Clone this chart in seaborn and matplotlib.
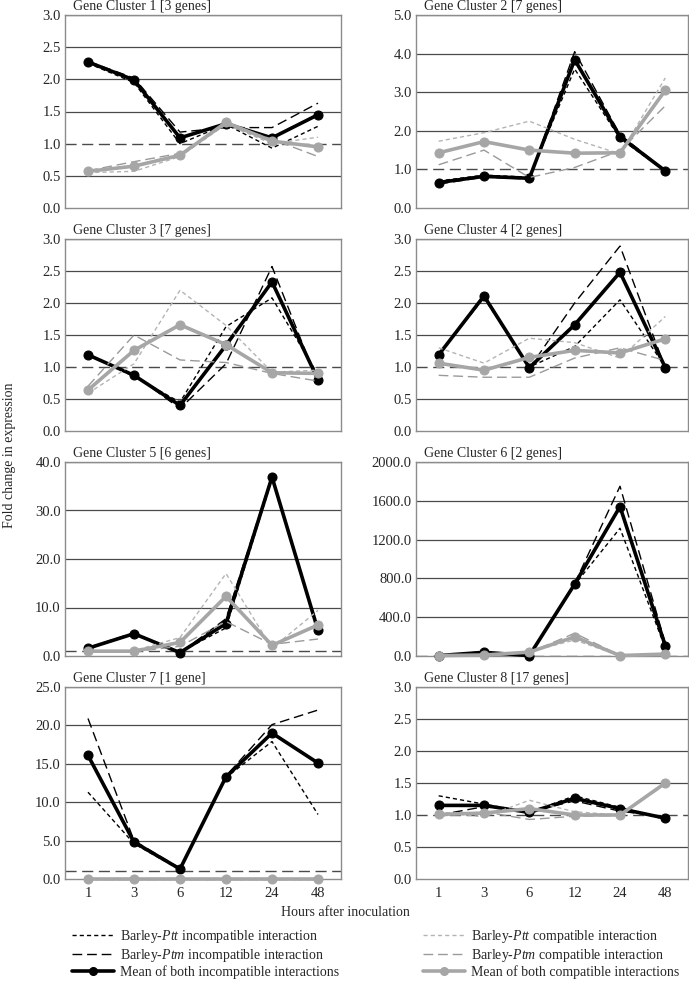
import matplotlib
matplotlib.use("Agg")
import matplotlib.pyplot as plt
from matplotlib.lines import Line2D
import seaborn as sns
import pandas as pd

# ---------------- data ----------------
hours = ["1", "3", "6", "12", "24", "48"]
titles = ["Gene Cluster 1 [3 genes]", "Gene Cluster 2 [7 genes]",
          "Gene Cluster 3 [7 genes]", "Gene Cluster 4 [2 genes]",
          "Gene Cluster 5 [6 genes]", "Gene Cluster 6 [2 genes]",
          "Gene Cluster 7 [1 gene]", "Gene Cluster 8 [17 genes]"]

# Barley-Ptt incompatible interaction
ptt_inc = [
    [2.25, 1.95, 1.00, 1.30, 0.93, 1.27],
    [0.70, 0.85, 0.80, 3.60, 1.80, 0.95],
    [1.20, 0.85, 0.45, 1.63, 2.08, 0.88],
    [1.20, 2.08, 1.00, 1.32, 2.05, 1.00],
    [1.50, 4.50, 0.80, 5.80, 36.5, 5.50],
    [3.0, 30.0, 3.0, 735.0, 1317.0, 80.0],
    [11.3, 4.6, 1.2, 13.2, 17.9, 8.4],
    [1.30, 1.17, 1.04, 1.30, 1.12, 0.93],
]
# Barley-Ptm incompatible interaction
ptm_inc = [
    [2.28, 2.02, 1.18, 1.25, 1.25, 1.63],
    [0.62, 0.80, 0.75, 4.05, 1.90, 0.97],
    [1.18, 0.88, 0.35, 1.05, 2.57, 0.75],
    [1.17, 2.13, 0.98, 2.00, 2.89, 0.98],
    [1.70, 4.80, 0.60, 7.70, 37.2, 5.00],
    [5.0, 45.0, 5.0, 748.0, 1750.0, 130.0],
    [20.9, 5.0, 1.4, 13.4, 20.1, 22.0],
    [1.00, 1.13, 1.05, 1.22, 1.06, 0.97],
]
# Mean of both incompatible interactions
mean_inc = [
    [2.27, 1.99, 1.09, 1.31, 1.09, 1.45],
    [0.66, 0.82, 0.77, 3.84, 1.85, 0.96],
    [1.19, 0.87, 0.40, 1.34, 2.33, 0.80],
    [1.19, 2.11, 0.99, 1.66, 2.48, 0.99],
    [1.60, 4.60, 0.70, 6.70, 36.9, 5.30],
    [4.0, 38.0, 4.0, 741.0, 1540.0, 105.0],
    [16.1, 4.8, 1.3, 13.3, 19.0, 15.1],
    [1.15, 1.15, 1.04, 1.26, 1.10, 0.95],
]
# Barley-Ptt compatible interaction
ptt_comp = [
    [0.55, 0.57, 0.80, 1.30, 1.00, 1.10],
    [1.73, 1.95, 2.25, 1.78, 1.40, 3.37],
    [0.59, 1.05, 2.20, 1.65, 0.92, 0.95],
    [1.30, 1.06, 1.45, 1.38, 1.14, 1.79],
    [1.00, 1.10, 3.80, 17.0, 1.60, 9.40],
    [3.0, 8.0, 45.0, 165.0, 3.0, 15.0],
    [0.05, 0.05, 0.05, 0.05, 0.05, 0.05],
    [1.05, 0.97, 1.23, 1.05, 1.00, 1.50],
]
# Barley-Ptm compatible interaction
ptm_comp = [
    [0.58, 0.72, 0.85, 1.30, 1.07, 0.80],
    [1.12, 1.50, 0.79, 1.05, 1.48, 2.65],
    [0.70, 1.50, 1.11, 1.07, 0.90, 0.78],
    [0.87, 0.84, 0.84, 1.14, 1.30, 1.10],
    [1.00, 0.90, 2.00, 7.10, 2.40, 3.50],
    [6.0, 12.0, 35.0, 235.0, 6.0, 25.0],
    [0.05, 0.05, 0.05, 0.05, 0.05, 0.05],
    [0.98, 1.05, 0.93, 0.98, 1.00, 1.48],
]
# Mean of both compatible interactions
mean_comp = [
    [0.57, 0.65, 0.82, 1.33, 1.04, 0.95],
    [1.43, 1.72, 1.50, 1.42, 1.43, 3.05],
    [0.64, 1.26, 1.66, 1.35, 0.91, 0.90],
    [1.06, 0.95, 1.15, 1.26, 1.22, 1.44],
    [1.00, 1.00, 2.80, 12.3, 2.20, 6.40],
    [4.5, 10.0, 40.0, 197.0, 4.5, 20.0],
    [0.05, 0.05, 0.05, 0.05, 0.05, 0.05],
    [1.01, 1.03, 1.10, 1.00, 1.00, 1.50],
]
y_max = [3.0, 5.0, 3.0, 3.0, 40.0, 2000.0, 25.0, 3.0]
y_step = [0.5, 1.0, 0.5, 0.5, 10.0, 400.0, 5.0, 0.5]

legend_labels = ["Barley-$\\it{Ptt}$ incompatible interaction",
                 "Barley-$\\it{Ptm}$ incompatible interaction",
                 "Mean of both incompatible interactions",
                 "Barley-$\\it{Ptt}$ compatible interaction",
                 "Barley-$\\it{Ptm}$ compatible interaction",
                 "Mean of both compatible interactions"]

# ---------------- styles ----------------
sns.set_theme(style="white")
plt.rcParams["font.family"] = ["Liberation Serif", "DejaVu Serif"]
plt.rcParams["mathtext.fontset"] = "custom"
plt.rcParams["mathtext.it"] = "Liberation Serif:italic"
plt.rcParams["mathtext.rm"] = "Liberation Serif"

BLACK = "#000000"
GRAY = "#a6a6a6"
styles = [
    dict(color=BLACK, lw=1.0, dashes=(3.0, 2.2), marker=None),   # ptt inc
    dict(color=BLACK, lw=1.0, dashes=(7, 3.5), marker=None),     # ptm inc
    dict(color=BLACK, lw=2.6, dashes=None, marker="o"),          # mean inc
    dict(color="#b4b4b4", lw=1.0, dashes=(3.0, 2.2), marker=None),  # ptt comp
    dict(color="#9a9a9a", lw=1.0, dashes=(7, 3.5), marker=None),    # ptm comp
    dict(color=GRAY, lw=2.6, dashes=None, marker="o"),           # mean comp
]

fig = plt.figure(figsize=(6.89, 9.81), dpi=100)
W, H = 689.0, 981.0
col_x = [(65, 341), (416, 688)]
row_y = [(15, 208), (239, 431), (462, 656), (687, 879)]

series_sets = [ptt_inc, ptm_inc, mean_inc, ptt_comp, ptm_comp, mean_comp]

for i in range(8):
    r, c = divmod(i, 2)
    x0, x1 = col_x[c]
    yt, yb = row_y[r]
    ax = fig.add_axes([x0 / W, 1 - yb / H, (x1 - x0) / W, (yb - yt) / H])
    ax.set_facecolor("white")

    ymax, step = y_max[i], y_step[i]
    nt = int(round(ymax / step))
    ticks = [k * step for k in range(nt + 1)]
    # horizontal grid lines (except at 1.0 where the reference line sits)
    for t in ticks[1:]:
        if abs(t - 1.0) > 1e-9:
            ax.axhline(t, color="#4a4a4a", lw=0.9, zorder=0.5)
    ax.axhline(1.0, color="#4a4a4a", lw=1.0, dashes=(8, 4), zorder=0.6)

    for k, (data, st) in enumerate(zip(series_sets, styles)):
        df = pd.DataFrame({"hour": hours, "value": data[i]})
        kw = dict(color=st["color"], lw=st["lw"], clip_on=False, zorder=2 + k)
        if st["dashes"] is not None:
            kw["dashes"] = st["dashes"]
        if st["marker"]:
            kw.update(marker="o", markersize=6.5, markeredgecolor=st["color"],
                      markerfacecolor=st["color"])
        sns.lineplot(data=df, x="hour", y="value", ax=ax, legend=False,
                     sort=False, **kw)

    ax.set_xlim(-0.5, 5.5)
    ax.set_ylim(0, ymax)
    ax.set_yticks(ticks)
    ax.set_yticklabels([f"{t:.1f}" for t in ticks], fontsize=10.5)
    ax.set_xlabel("")
    ax.set_ylabel("")
    ax.tick_params(axis="both", length=0, pad=3)
    if r == 3:
        ax.set_xticks(range(6))
        ax.set_xticklabels(hours, fontsize=10.5)
        ax.tick_params(axis="x", pad=6)
    else:
        ax.set_xticks([])
    for sp in ax.spines.values():
        sp.set_color("#8c8c8c")
        sp.set_linewidth(1.0)
    ax.text(0.03, 1.01, titles[i], transform=ax.transAxes, fontsize=10,
            ha="left", va="bottom")

fig.text(10 / W, 1 - 455 / H, "Fold change in expression", rotation=90,
         ha="center", va="center", fontsize=10)
fig.text(345 / W, 1 - 913 / H, "Hours after inoculation", ha="center",
         va="center", fontsize=10)

handles = []
for st in styles:
    kw = dict(color=st["color"], lw=st["lw"] if st["marker"] else 1.0)
    if st["dashes"] is not None:
        kw["dashes"] = st["dashes"]
    if st["marker"]:
        kw.update(marker="o", markersize=5.5)
    handles.append(Line2D([], [], **kw))

for j, xpos in enumerate([72, 423]):
    fig.legend(handles[3 * j:3 * j + 3], legend_labels[3 * j:3 * j + 3],
               loc="upper left", bbox_to_anchor=(xpos / W, 1 - 928 / H),
               frameon=False, fontsize=10, handlelength=3.0,
               handletextpad=0.45, labelspacing=0.12, borderpad=0,
               borderaxespad=0)

fig.savefig("out.png", dpi=100, facecolor="white")
